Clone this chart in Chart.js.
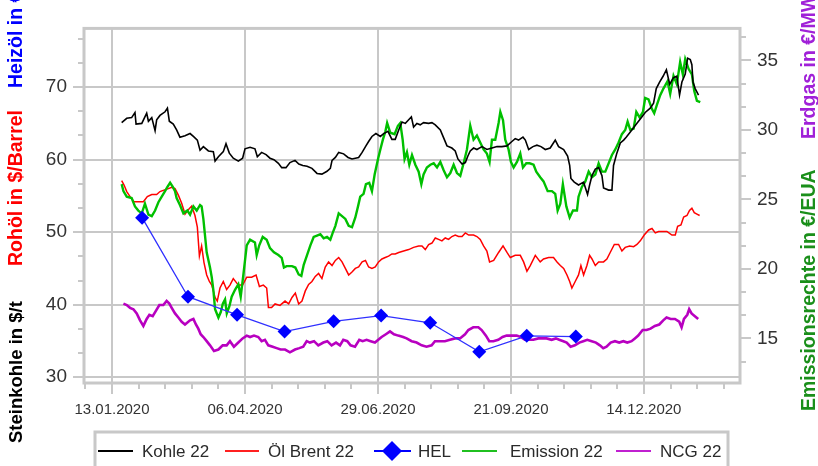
<!DOCTYPE html>
<html><head><meta charset="utf-8">
<script src="https://cdn.jsdelivr.net/npm/chart.js@4/dist/chart.umd.min.js"></script>
<style>html,body{margin:0;padding:0;background:#fff;overflow:hidden}</style>
</head><body>
<canvas id="c" width="818" height="466"></canvas>
<script>
// x values are days since 13.01.2020
const tickDays = [0, 84, 168, 252, 336];
const tickLabels = ['13.01.2020', '06.04.2020', '29.06.2020', '21.09.2020', '14.12.2020'];

const kohleDays = [6.1,9.3,12.4,14.5,15.2,18.8,21.9,23,25.1,27.2,28.2,30.3,33.5,35,36.2,38.7,40.8,42.9,46.1,49.3,51.4,53.9,55.6,57.7,60.9,64,65.1,67.2,70.3,72,74.1,76.6,79.8,82.5,84,87.2,90.3,91.8,94.5,97.3,99.8,102.3,105.1,107.2,109.9,112.4,115.6,118,120.5,123.2,126.3,129.5,132.6,135.8,137.9,139,141.1,143.2,146.3,149.1,151.6,153.7,155.8,158,160.4,162.1,164.2,166.7,169.5,171.6,174.3,176.8,178.9,181.1,183.2,185.3,187.4,189.1,190.5,192.6,194.7,196.8,200,202.1,204.2,207.4,209.5,211.6,214.7,216.8,218.5,221.1,223.2,224.8,226.3,228.4,230.5,233.7,236.8,240,243.2,246.3,249.5,252.6,254.7,256.8,259.6,261.1,263.2,265.9,268.4,271,273.7,276.8,280,282.1,285.3,287.8,289.1,289.9,292,294.7,297.9,300.4,301.7,303.2,305.3,307.4,309.5,310.5,313.7,315.8,316.8,318.9,321.1,323.2,324.8,327.4,330.5,333.7,336.8,340,342.1,343.8,345.9,348.1,350.2,352.3,354.7,356.8,358.5,360,362.1,363.6,365.3,366.3,367,368.4,370.5];
const kohleValues = [65.1,65.7,65.8,66.5,64.9,65.0,66.4,65.3,65.8,64.0,65.5,66.1,66.6,67.1,65.3,64.9,64.1,63.1,63.3,63.6,63.2,62.7,61.3,61.8,61.2,61.1,59.8,60.4,61.1,62.2,60.9,60.2,59.8,60.2,61.5,61.7,61.5,60.4,61.0,60.7,60.2,60.0,59.5,58.9,58.9,59.6,59.9,59.4,59.2,59.1,58.8,58.1,58.0,58.4,58.8,59.9,60.3,61.0,60.8,60.3,60.1,60.2,60.3,61.0,61.9,62.5,63.2,63.6,63.2,63.6,63.9,62.8,62.8,64.1,65.2,65.0,65.5,65.9,64.5,65.0,64.8,65.1,65.0,65.1,64.8,64.1,63.0,61.9,61.6,61.2,60.1,59.4,59.6,60.5,61.2,61.6,61.4,61.8,61.4,61.6,61.8,61.8,61.9,62.5,62.9,62.7,63.1,62.7,61.4,61.8,62.0,61.8,61.4,61.6,62.7,61.8,61.4,60.5,59.2,57.4,56.9,56.5,56.9,55.2,56.5,57.8,58.7,58.9,57.8,56.1,55.8,55.8,59.2,60.9,62.3,62.7,63.1,63.8,64.7,65.6,66.5,67.1,67.8,69.8,70.7,71.5,72.4,70.4,71.3,71.5,68.9,70.7,71.8,74.0,73.8,73.1,70.7,69.8,68.9];

const brentDays = [6.1,7.6,9.3,11.4,13.9,16.6,19.8,22.3,25.1,28.2,30.3,32.8,35.6,37.7,39.8,41.9,44,46.1,48.2,50.3,52.4,53.9,55.2,56.6,58.1,59.8,61.5,63,65.1,66.5,68.2,70.3,72.4,74.5,76.6,79.8,82.5,85.1,88.2,91,93.1,95.6,97.7,98.8,100.8,103,106.1,109.3,111.6,113.7,115.8,117.9,120,122.1,124.2,126.3,128.4,130.5,132.6,134.7,136.8,139,141.1,143.2,145.3,147.4,149.5,151.6,153.7,155.8,158,160.1,162.1,164.2,166.3,168.4,170.5,172.6,174.7,176.8,178.9,181.1,184.2,187.4,190.5,193.7,195.8,197.9,200,202.1,204.2,206.3,208.4,210.5,212.6,214.7,216.8,218.9,221.1,223.2,225.3,228.4,230.5,232.6,234.7,236.8,238.5,241.1,244.2,247,249.5,251.6,254.7,257.9,260,262.1,264.2,267.4,270.5,272.6,275.8,278.9,281.1,283.2,285.3,287.4,289.1,290.5,292.6,294.7,296.2,297.9,300,301.7,303.2,305.3,307.4,310.5,312.6,314.7,317.3,320,322.1,324.2,327,329.5,331.6,333.7,336.2,339,341.1,343.2,345.3,348.1,350.5,353.7,355.8,357.3,359.4,361.1,363.2,364.8,366.3,367.8,369.5,371.2];
const brentValues = [57.1,56.5,55.6,54.9,54.2,54.2,54.2,54.9,55.2,55.2,55.6,55.8,56.0,56.2,56.0,55.1,54.0,52.5,53.1,53.6,52.3,50.7,46.7,48.1,45.8,44.1,43.2,42.7,41.0,40.5,42.3,43.2,42.1,42.7,43.6,42.7,42.7,43.8,43.8,44.1,42.5,42.7,42.3,39.6,39.6,40.1,39.9,40.5,40.1,41.0,41.6,40.1,40.5,41.9,42.8,43.2,43.9,44.3,43.6,45.2,45.9,45.4,46.1,46.5,45.9,45.0,44.1,44.5,45.0,45.2,45.9,46.1,45.2,45.0,45.2,45.9,46.3,46.5,46.7,47.0,47.0,47.2,47.4,47.6,47.9,48.1,48.1,47.6,48.3,48.5,49.2,49.0,48.8,49.2,49.0,49.4,49.6,49.4,49.4,49.9,49.6,49.6,49.4,49.0,48.1,47.4,45.9,46.1,47.2,48.1,47.2,46.5,46.8,46.8,45.9,44.6,45.4,46.8,45.9,46.3,46.5,46.5,45.9,45.4,45.0,44.1,43.2,42.3,43.2,44.1,45.4,44.1,45.4,46.8,46.3,45.4,45.9,45.9,46.3,47.2,48.3,48.3,47.4,47.9,48.1,48.0,48.3,48.8,49.6,50.3,50.5,49.9,50.1,50.1,50.1,49.6,49.6,50.8,51.0,52.1,52.3,53.0,53.3,52.7,52.5,52.3];

const helDays = [19, 48, 79, 109, 140, 170, 201, 232, 262, 293];
const helValues = [52.0, 41.1, 38.6, 36.3, 37.7, 38.5, 37.5, 33.5, 35.7, 35.6];

const emissionDays = [6.1,7.2,9.3,12.4,14.5,16.6,18.8,20.8,23,25.1,27.2,29.3,31.4,33.5,35,36.7,38.4,39.8,40.8,42.9,45.1,47.6,49.3,51.4,53.5,55.6,56.6,57.7,59.8,61.9,63,64,65.1,67.2,68.7,70,71.4,72.5,74.1,75.6,77.7,79.8,81.3,83,85.1,87.2,90.3,91.4,93,95.2,97.7,99.8,102.3,105.1,107.2,108.6,110.3,113.7,115.8,117.9,119.6,121.1,123.2,125.3,127.4,129.5,131.6,133.7,135.8,137.9,139.4,141.1,143.2,145.3,147.4,149.5,151.6,153.7,155.4,156.8,158.9,160.4,162.5,164.2,165.9,168,169.5,171.1,172.7,173.8,175.8,178.5,180.6,182.1,183.6,184.8,186.3,187.8,189.5,191.6,193.7,195.4,196.8,198.9,201.1,203.2,205.3,207.4,209.5,211.6,213.7,215.8,217.9,220,222.1,224.2,226.3,228.4,230.5,232.6,234.7,236.8,238.5,240,242.1,244.2,245.3,247,248.4,250.5,252,253.7,255.8,257.9,259.6,261.7,263.8,266.3,268,270.5,272.6,275.2,277.9,280,281.5,283.2,284.8,287,289.1,291.2,293.7,294.7,296.8,299,301.1,303.2,305.3,307.4,309.5,311.6,313.7,315.8,317.9,320,322.1,324.2,325.7,327.4,329.5,331.2,333.3,335.4,336.8,338.9,341.1,342.5,344.2,346.3,348.4,350.9,352.6,354.7,356.8,358.9,360.6,362.1,364.2,366.3,367.8,369.5,371.6];
const emissionValues = [26.1,25.6,25.2,25.1,24.5,24.2,24.0,24.7,23.9,23.8,24.2,24.8,25.2,25.6,25.9,26.2,25.9,25.6,25.1,24.6,24.0,24.2,23.9,24.5,24.2,24.6,24.5,23.6,21.2,20.1,19.4,18.5,17.1,16.5,16.9,17.5,17.8,16.8,17.3,18.0,18.5,18.9,18.0,19.6,21.7,22.1,21.9,21.0,21.7,22.3,22.1,21.5,21.2,21.0,20.8,20.1,20.2,20.2,20.1,19.6,19.5,20.3,21.0,21.7,22.3,22.4,22.5,22.2,22.3,22.1,22.6,23.1,24.0,23.8,23.6,23.1,23.0,23.7,24.5,25.2,25.4,26.1,26.2,25.6,26.8,27.9,28.6,29.3,29.9,30.5,29.8,29.7,30.3,30.5,29.3,27.9,28.4,27.5,28.2,27.5,27.0,26.1,26.8,27.3,27.5,27.6,27.3,27.7,27.1,26.6,26.9,27.5,26.9,26.7,27.6,28.6,30.3,29.3,29.6,29.1,28.6,28.3,27.7,29.3,29.3,30.5,31.3,30.7,29.3,28.6,27.7,27.3,27.7,28.3,27.3,27.6,27.6,27.5,27.0,26.6,26.3,25.6,25.6,25.4,24.2,24.7,26.1,24.5,23.7,24.2,24.2,25.2,25.9,26.3,27.0,26.6,26.8,27.6,27.0,27.0,27.6,28.2,28.6,29.1,29.7,30.0,30.6,30.0,30.1,31.3,30.9,31.3,32.3,32.2,31.5,31.2,31.8,32.5,33.0,33.5,32.6,33.9,33.3,34.9,34.0,35.1,34.4,34.0,32.8,32.1,32.0];

const ncgDays = [7.2,9.3,11.4,13.5,15.6,17.7,19.8,21.9,23.6,25.7,27.8,29.9,32.4,34.5,36.2,37.7,39.8,41.9,44,46.1,49.3,51.4,53,54.5,56,57.7,59.8,61.9,64.4,67.2,69.9,72.4,74.5,77,79.8,82.5,85.1,87.2,89.7,92.4,94.5,96.6,98.7,101.5,104,106.5,109.3,112.4,115.6,118.3,120.8,123,125,127.6,130.3,133.5,136,138.7,141.5,144,146.1,148.6,150.7,153.5,156.2,158.3,160.8,163.4,166.1,168.2,170.3,173,175.6,178.1,180.8,183.9,186.1,189.3,192.4,195.6,198.7,201.9,204,207.2,210.3,213.5,216.6,219.8,223,225.1,228.2,231.4,233.5,236.2,238.3,240.9,244,246.7,249.3,252.4,255.6,258.1,260.8,263.6,266.1,269.3,272,274.5,277.7,280.4,282.5,285.1,287.2,289.7,292.4,295.2,297.7,300.2,303,305.7,308.2,310.3,312.4,315,317.7,320.4,323,325.5,328.2,330.3,332.4,335.2,337.7,340.2,342.9,345.7,348.2,350.3,352.9,355.6,358.3,359.8,361.3,363.4,364.6,366.1,368.2,370.3];
const ncgValues = [17.5,17.4,17.2,17.1,16.8,16.3,15.9,16.4,16.7,16.6,17.0,17.4,17.4,17.7,17.5,17.2,16.8,16.5,16.2,16.0,16.3,16.4,16.0,15.7,15.3,15.1,14.8,14.5,14.1,14.2,14.5,14.5,14.8,14.4,14.7,15.0,15.2,15.1,15.2,15.1,14.8,14.9,14.5,14.4,14.3,14.2,14.2,14.0,14.2,14.3,14.4,14.8,14.7,14.8,14.5,14.7,14.8,14.5,14.7,14.5,14.9,14.8,14.5,14.4,14.9,14.8,14.9,14.8,14.7,14.9,15.1,15.3,15.5,15.3,15.2,15.1,15.0,14.8,14.7,14.5,14.4,14.5,14.8,14.8,14.8,14.9,15.0,15.0,15.3,15.6,15.8,15.8,15.6,15.2,14.8,14.8,14.9,15.1,15.2,15.2,15.2,15.1,14.9,14.9,14.9,15.0,15.0,15.0,14.9,15.0,14.9,14.8,14.7,14.4,14.5,14.7,14.8,14.9,14.8,14.7,14.5,14.3,14.4,14.7,14.8,14.7,14.8,14.7,14.8,15.0,15.2,15.6,15.6,15.7,15.9,16.0,16.3,16.5,16.4,16.4,16.2,15.8,16.4,16.7,17.1,16.8,16.6,16.4];

const pts = (d, v) => d.map((x, i) => ({ x: x, y: v[i] }));
const GRID = '#c8c8c8';
const FONT = '"Liberation Sans", Arial, sans-serif';

const framePlugin = {
  id: 'frame',
  afterDraw(chart) {
    const ctx = chart.ctx, ca = chart.chartArea;
    const sx = chart.scales.x, sl = chart.scales.yL, sr = chart.scales.yR;
    ctx.save();
    ctx.strokeStyle = GRID;
    ctx.lineWidth = 2;
    ctx.beginPath();
    for (let k = -1; k <= 24; k++) {
      const v = k * 84 / 5;
      if (v < sx.min || v > sx.max) continue;
      const px = Math.round(sx.getPixelForValue(v));
      const len = (k % 5 === 0) ? 11 : 6;
      ctx.moveTo(px, ca.bottom); ctx.lineTo(px, ca.bottom + len);
    }
    for (let k = 0; k <= 16; k++) {
      const v = 30 + k * 10 / 3 - 10 / 3;
      if (v < sl.min || v > sl.max) continue;
      const py = Math.round(sl.getPixelForValue(v));
      const len = ((k - 1) % 3 === 0) ? 11 : 6;
      ctx.moveTo(ca.left, py); ctx.lineTo(ca.left - len, py);
    }
    for (let k = 0; k <= 16; k++) {
      const v = 10 + k * 5 / 3;
      if (v < sr.min || v > sr.max) continue;
      const py = Math.round(sr.getPixelForValue(v));
      const len = (k % 3 === 0) ? 11 : 6;
      ctx.moveTo(ca.right, py); ctx.lineTo(ca.right + len, py);
    }
    ctx.stroke();
    ctx.lineWidth = 3;
    ctx.strokeRect(ca.left, ca.top, ca.right - ca.left, ca.bottom - ca.top);

    const rot = (x, y, text, color, size) => {
      ctx.save();
      ctx.translate(x, y);
      ctx.rotate(-Math.PI / 2);
      ctx.font = 'bold ' + size + 'px ' + FONT;
      ctx.fillStyle = color;
      ctx.textAlign = 'left';
      ctx.textBaseline = 'middle';
      ctx.fillText(text, 0, 0);
      ctx.restore();
    };
    rot(17, 443, 'Steinkohle in $/t', '#000000', 18.5);
    rot(17, 266, 'Rohöl in $/Barrel', '#ff0000', 19.5);
    rot(17, 88, 'Heizöl in €/100 l', '#0000ff', 19.5);
    rot(810, 411, 'Emissionsrechte in €/EUA', '#1a8f1a', 19.5);
    rot(810, 139, 'Erdgas in €/MWh', '#a020d8', 19.5);

    ctx.lineWidth = 3;
    ctx.strokeStyle = GRID;
    ctx.strokeRect(95, 432, 633, 50);
    const ly = 451;
    ctx.font = '17px ' + FONT;
    ctx.textBaseline = 'middle';
    ctx.textAlign = 'left';
    const lineItem = (x0, x1, color, w) => {
      ctx.strokeStyle = color; ctx.lineWidth = w;
      ctx.beginPath(); ctx.moveTo(x0, ly); ctx.lineTo(x1, ly); ctx.stroke();
    };
    const label = (x, t) => { ctx.fillStyle = '#2a2a2a'; ctx.fillText(t, x, ly + 1); };
    lineItem(98, 133, '#000000', 2); label(142, 'Kohle 22');
    lineItem(225, 259, '#ff2020', 2); label(268, 'Öl Brent 22');
    lineItem(374, 411, '#0000ff', 2);
    ctx.fillStyle = '#0000ff';
    ctx.beginPath(); ctx.moveTo(392, ly - 10); ctx.lineTo(402, ly); ctx.lineTo(392, ly + 10); ctx.lineTo(382, ly); ctx.closePath(); ctx.fill();
    label(418, 'HEL');
    lineItem(462, 497, '#20c020', 2); label(510, 'Emission 22');
    lineItem(616, 651, '#c020d0', 2); label(660, 'NCG 22');
    ctx.restore();
  }
};

new Chart(document.getElementById('c'), {
  type: 'line',
  data: {
    datasets: [
      { label: 'HEL', data: pts(helDays, helValues), yAxisID: 'yL', borderColor: '#3030ff', backgroundColor: '#0000ff', borderWidth: 1.3, pointStyle: 'rectRot', pointRadius: 7, pointBorderWidth: 0, order: 0 },
      { label: 'Kohle 22', data: pts(kohleDays, kohleValues), yAxisID: 'yL', borderColor: '#000000', borderWidth: 1.6, pointRadius: 0, order: 1 },
      { label: 'Emission 22', data: pts(emissionDays, emissionValues), yAxisID: 'yR', borderColor: '#00c000', borderWidth: 2.4, pointRadius: 0, order: 2 },
      { label: 'Öl Brent 22', data: pts(brentDays, brentValues), yAxisID: 'yL', borderColor: '#ff0000', borderWidth: 1.5, pointRadius: 0, order: 3 },
      { label: 'NCG 22', data: pts(ncgDays, ncgValues), yAxisID: 'yR', borderColor: '#b800c0', borderWidth: 2.6, pointRadius: 0, order: 4 }
    ]
  },
  options: {
    responsive: false,
    animation: false,
    devicePixelRatio: 1,
    layout: { padding: { top: 15, left: 0, right: 0, bottom: 0 } },
    plugins: { legend: { display: false }, tooltip: { enabled: false } },
    elements: { line: { tension: 0 } },
    scales: {
      x: {
        type: 'linear', position: 'bottom', min: -17.7, max: 396.7,
        afterBuildTicks: s => { s.ticks = tickDays.map(v => ({ value: v })); },
        afterFit: s => { s.height = 83; },
        ticks: { autoSkip: false, maxRotation: 0, padding: 18, color: '#333', font: { family: FONT, size: 15 },
          callback: v => tickLabels[tickDays.indexOf(v)] },
        grid: { color: GRID, lineWidth: 2, drawTicks: false },
        border: { display: false }
      },
      yL: {
        type: 'linear', position: 'left', min: 29.2, max: 78.1,
        afterFit: s => { s.width = 84; },
        ticks: { stepSize: 10, includeBounds: false, padding: 17, color: '#333', font: { family: FONT, size: 19 } },
        grid: { color: GRID, lineWidth: 2, drawTicks: false },
        border: { display: false }
      },
      yR: {
        type: 'linear', position: 'right', min: 11.79, max: 37.31,
        afterFit: s => { s.width = 78; },
        ticks: { stepSize: 5, includeBounds: false, padding: 17, color: '#333', font: { family: FONT, size: 19 } },
        grid: { display: false, drawTicks: false },
        border: { display: false }
      }
    }
  },
  plugins: [framePlugin]
});
</script>
</body></html>
